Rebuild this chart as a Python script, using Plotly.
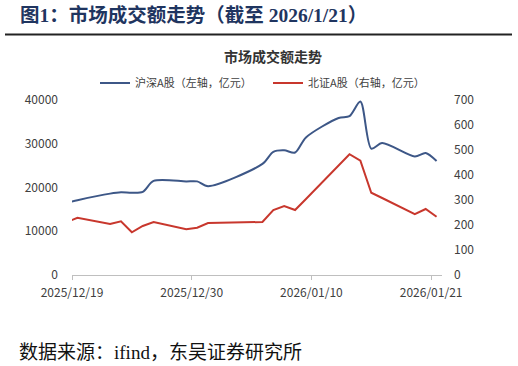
import pandas as pd
import plotly.graph_objects as go

# ---- data ----
dates = ["2025-12-18", "2025-12-19", "2025-12-22", "2025-12-23", "2025-12-24", "2025-12-25",
         "2025-12-26", "2025-12-29", "2025-12-30", "2025-12-31", "2026-01-05", "2026-01-06",
         "2026-01-07", "2026-01-08", "2026-01-09", "2026-01-12", "2026-01-13", "2026-01-14",
         "2026-01-15", "2026-01-16", "2026-01-19", "2026-01-20", "2026-01-21"]
hs_a = [16500, 17100, 18600, 18900, 18800, 19000, 21500, 21400, 21400, 20300, 25400, 28150,
        28500, 28000, 31450, 35900, 36300, 39650, 28900, 30150, 27100, 27900, 26050]
bz_a = [211, 229, 204, 215, 171, 196, 212, 183, 189, 208, 212, 260,
        276, 260, 304, 438, 483, 457, 329, 308, 243, 264, 233]
tick_dates = ["2025-12-19", "2025-12-30", "2026-01-10", "2026-01-21"]
tick_text = ["2025/12/19", "2025/12/30", "2026/01/10", "2026/01/21"]
left_ticks = [0, 10000, 20000, 30000, 40000]
right_ticks = [0, 100, 200, 300, 400, 500, 600, 700]
name_hs = "沪深A股（左轴，亿元）"
name_bz = "北证A股（右轴，亿元）"
chart_title = "市场成交额走势"
fig_title = "图1：市场成交额走势（截至 2026/1/21）"
source_text = "数据来源：ifind，东吴证券研究所"

# points sit in the middle of each day slot (Excel date axis, between tick marks)
x = pd.to_datetime(dates) + pd.Timedelta(hours=12)

SANS = "Noto Sans CJK SC, Open Sans, sans-serif"
SERIF = "Liberation Serif, Noto Sans CJK SC, serif"
TXT = "#404040"
BLUE = "#3d5787"
RED = "#c8372d"

W, H = 518, 366
L, R, T, B = 72, 442, 100, 275  # plot area in px

fig = go.Figure()
fig.add_trace(go.Scatter(x=x, y=hs_a, name=name_hs, mode="lines",
                         line=dict(color=BLUE, width=2, shape="spline", smoothing=0.8),
                         yaxis="y"))
fig.add_trace(go.Scatter(x=x, y=bz_a, name=name_bz, mode="lines",
                         line=dict(color=RED, width=2),
                         yaxis="y2"))

def px(xp):
    return (xp - L) / (R - L)

def py(yp):
    return (B - yp) / (B - T)

fig.update_layout(
    width=W, height=H,
    margin=dict(l=L, r=W - R, t=T, b=H - B, pad=0),
    paper_bgcolor="white", plot_bgcolor="white",
    font=dict(family=SANS, size=12, color=TXT),
    title=dict(text="<b>" + chart_title + "</b>", x=273 / W, xref="container", xanchor="center",
               y=1 - 57 / H, yref="container", yanchor="middle",
               font=dict(family=SANS, size=14, color="#333333")),
    legend=dict(orientation="h", x=px(95), xanchor="left", y=py(83), yanchor="middle",
                font=dict(family=SANS, size=11, color=TXT), bgcolor="rgba(0,0,0,0)",
                itemwidth=30, tracegroupgap=0, entrywidth=128, entrywidthmode="pixels"),
    xaxis=dict(type="date", range=["2025-12-19", "2026-01-22"],
               tickmode="array", tickvals=tick_dates, ticktext=tick_text,
               showline=True, linecolor="#bfbfbf", linewidth=1,
               ticks="outside", ticklen=4, tickcolor="#bfbfbf",
               showgrid=False, zeroline=False, ticklabelstandoff=3,
               tickfont=dict(family=SANS, size=12, color=TXT)),
    yaxis=dict(range=[0, 40000], tickmode="array", tickvals=left_ticks, tickformat="d",
               showgrid=False, zeroline=False, showline=False, ticklabelstandoff=13,
               tickfont=dict(family=SANS, size=12, color=TXT)),
    yaxis2=dict(range=[0, 700], tickmode="array", tickvals=right_ticks, overlaying="y",
                side="right", showgrid=False, zeroline=False, showline=False,
                ticklabelstandoff=11, tickfont=dict(family=SANS, size=12, color=TXT)),
    shapes=[dict(type="line", xref="paper", yref="paper", x0=px(5), x1=px(512),
                 y0=py(34.5), y1=py(34.5), line=dict(color="#222222", width=2))],
    annotations=[
        dict(text="<b>" + fig_title + "</b>", xref="paper", yref="paper",
             x=px(18), y=py(15), xanchor="left", yanchor="middle", showarrow=False,
             font=dict(family=SERIF, size=19.5, color="#1f3560")),
        dict(text=source_text, xref="paper", yref="paper",
             x=px(17), y=py(352), xanchor="left", yanchor="middle", showarrow=False,
             font=dict(family=SERIF, size=19, color="#111111")),
    ],
)

fig.write_html("out.html", config={"displayModeBar": False},
               post_script="document.body.style.margin='0';document.body.style.overflow='hidden';")
